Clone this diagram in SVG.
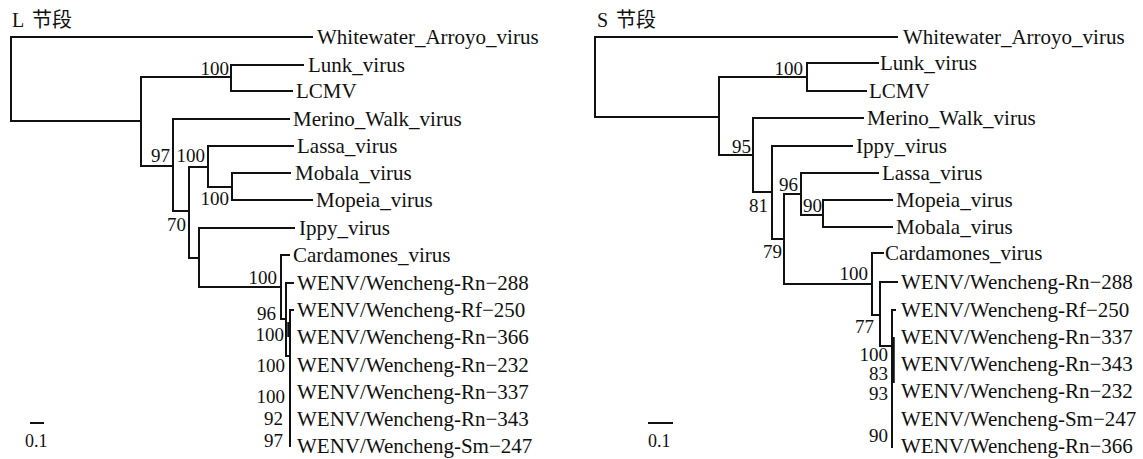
<svg xmlns="http://www.w3.org/2000/svg" width="1143" height="459" viewBox="0 0 1143 459">
<style>
.e{fill:none;stroke:#111;stroke-width:2;stroke-linecap:square}
.tk{fill:none;stroke:#111;stroke-width:3.5}
text{fill:#111}
.t{font-size:21px}
.b{font-size:19px;text-anchor:end}
.h{font-size:20px}
.s{font-size:18px}
</style>
<rect width="1143" height="459" fill="#fff"/>
<g id="titles" font-family="Liberation Serif, Noto Sans CJK SC, serif">
<text class="h" x="12" y="27">L<tspan x="32">节段</tspan></text>
<text class="h" x="597" y="27">S<tspan x="616">节段</tspan></text>
</g>
<g id="connectors">
<path class="e" d="M11,37V121M11,37H312M11,121H141"/>
<path class="e" d="M141,77V166M141,77H231M141,166H173"/>
<path class="e" d="M231,65V91M231,65H303M231,91H292"/>
<path class="e" d="M173,119V211M173,119H289M173,211H189"/>
<path class="e" d="M189,167V258M189,167H208M189,258H199"/>
<path class="e" d="M208,146V187M208,146H293M208,187H232"/>
<path class="e" d="M232,173V200M232,173H290M232,200H312"/>
<path class="e" d="M199,228V287M199,228H294M199,287H281"/>
<path class="e" d="M281,255V319M281,255H289M281,319H286"/>
<path class="e" d="M286,283V356M286,283H293M286,356H290"/>
<path class="e" d="M290,310V446M290,310H293"/>
<path class="tk" d="M289,322V337"/>
<path class="e" d="M595,37V117M595,37H897M595,117H719"/>
<path class="e" d="M719,77V155M719,77H807M719,155H753"/>
<path class="e" d="M807,63V91M807,63H878M807,91H866"/>
<path class="e" d="M753,118V192M753,118H863M753,192H772"/>
<path class="e" d="M772,146V239M772,146H852M772,239H784"/>
<path class="e" d="M784,194V284M784,194H801M784,284H872"/>
<path class="e" d="M801,173V215M801,173H878M801,215H823"/>
<path class="e" d="M823,200V227M823,200H892M823,227H892"/>
<path class="e" d="M872,253V315M872,253H883M872,315H880"/>
<path class="e" d="M880,282V346M880,282H897M880,346H892"/>
<path class="e" d="M892,310V447M892,310H895"/>
<path class="tk" d="M893,337V383"/>
<path class="e" d="M31,423H43M649,423H672"/>
</g>
<g id="L-leaves" font-family="Liberation Serif, DejaVu Serif, serif">
<g id="L-whitewater"><text class="t" x="317" y="44">Whitewater_Arroyo_virus</text></g>
<g id="L-lunk"><text class="t" x="308" y="72">Lunk_virus</text></g>
<g id="L-lcmv"><text class="t" x="296" y="98">LCMV</text></g>
<g id="L-merino"><text class="t" x="293" y="126">Merino_Walk_virus</text></g>
<g id="L-lassa"><text class="t" x="297" y="153">Lassa_virus</text></g>
<g id="L-mobala"><text class="t" x="295" y="180">Mobala_virus</text></g>
<g id="L-mopeia"><text class="t" x="316" y="207">Mopeia_virus</text></g>
<g id="L-ippy"><text class="t" x="299" y="235">Ippy_virus</text></g>
<g id="L-cardamones"><text class="t" x="293" y="262">Cardamones_virus</text></g>
<g id="L-rn288"><text class="t" x="297" y="290">WENV/Wencheng-Rn−288</text></g>
<g id="L-rf250"><text class="t" x="297" y="317">WENV/Wencheng-Rf−250</text></g>
<g id="L-rn366"><text class="t" x="297" y="344">WENV/Wencheng-Rn−366</text></g>
<g id="L-rn232"><text class="t" x="297" y="372">WENV/Wencheng-Rn−232</text></g>
<g id="L-rn337"><text class="t" x="297" y="399">WENV/Wencheng-Rn−337</text></g>
<g id="L-rn343"><text class="t" x="297" y="426">WENV/Wencheng-Rn−343</text></g>
<g id="L-sm247"><text class="t" x="297" y="453">WENV/Wencheng-Sm−247</text></g>
</g>
<g id="L-support" font-family="Liberation Serif, DejaVu Serif, serif">
<text class="b" x="229" y="75">100</text>
<text class="b" x="170" y="162">97</text>
<text class="b" x="205" y="162">100</text>
<text class="b" x="229" y="205">100</text>
<text class="b" x="186" y="231">70</text>
<text class="b" x="277" y="284">100</text>
<text class="b" x="276" y="320">96</text>
<text class="b" x="284" y="341">100</text>
<text class="b" x="285" y="372">100</text>
<text class="b" x="285" y="403">100</text>
<text class="b" x="283" y="425">92</text>
<text class="b" x="283" y="447">97</text>
</g>
<g id="S-leaves" font-family="Liberation Serif, DejaVu Serif, serif">
<g id="S-whitewater"><text class="t" x="903" y="44">Whitewater_Arroyo_virus</text></g>
<g id="S-lunk"><text class="t" x="880" y="70">Lunk_virus</text></g>
<g id="S-lcmv"><text class="t" x="869" y="98">LCMV</text></g>
<g id="S-merino"><text class="t" x="867" y="125">Merino_Walk_virus</text></g>
<g id="S-ippy"><text class="t" x="856" y="153">Ippy_virus</text></g>
<g id="S-lassa"><text class="t" x="882" y="180">Lassa_virus</text></g>
<g id="S-mopeia"><text class="t" x="896" y="207">Mopeia_virus</text></g>
<g id="S-mobala"><text class="t" x="896" y="234">Mobala_virus</text></g>
<g id="S-cardamones"><text class="t" x="885" y="260">Cardamones_virus</text></g>
<g id="S-rn288"><text class="t" x="901" y="289">WENV/Wencheng-Rn−288</text></g>
<g id="S-rf250"><text class="t" x="901" y="317">WENV/Wencheng-Rf−250</text></g>
<g id="S-rn337"><text class="t" x="901" y="344">WENV/Wencheng-Rn−337</text></g>
<g id="S-rn343"><text class="t" x="901" y="371">WENV/Wencheng-Rn−343</text></g>
<g id="S-rn232"><text class="t" x="901" y="398">WENV/Wencheng-Rn−232</text></g>
<g id="S-sm247"><text class="t" x="901" y="426">WENV/Wencheng-Sm−247</text></g>
<g id="S-rn366"><text class="t" x="901" y="453">WENV/Wencheng-Rn−366</text></g>
</g>
<g id="S-support" font-family="Liberation Serif, DejaVu Serif, serif">
<text class="b" x="803" y="75">100</text>
<text class="b" x="751" y="153">95</text>
<text class="b" x="768" y="212">81</text>
<text class="b" x="798" y="191">96</text>
<text class="b" x="822" y="212">90</text>
<text class="b" x="782" y="258">79</text>
<text class="b" x="868" y="280">100</text>
<text class="b" x="874" y="333">77</text>
<text class="b" x="888" y="361">100</text>
<text class="b" x="888" y="380">83</text>
<text class="b" x="888" y="400">93</text>
<text class="b" x="888" y="442">90</text>
</g>
<g id="scales" font-family="Liberation Serif, DejaVu Serif, serif">
<text class="s" x="25" y="447">0.1</text>
<text class="s" x="648" y="447">0.1</text>
</g>
</svg>
